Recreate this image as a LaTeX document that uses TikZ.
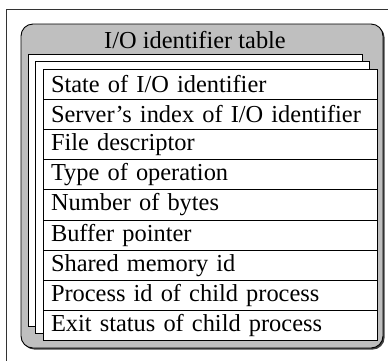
\documentclass[tikz,border=0pt]{standalone}
\usepackage{fontspec}
\setmainfont{Liberation Serif}
\usetikzlibrary{positioning,shadows}
\tikzset{tablebox/.style={draw,rectangle,rounded corners=12pt,fill=black!25,line width=0.9pt,
        drop shadow={shadow xshift=1.6pt,shadow yshift=-1.6pt,opacity=1,fill=black!75}},
    pagebox/.style={draw,rectangle,fill=white,line width=0.9pt,minimum width=334pt,minimum height=272pt,inner sep=0},
    rowcell/.style={draw,rectangle,fill=white,line width=0.9pt,outer sep=0,minimum width=334pt,minimum height=30.2pt,
        node distance=0,inner xsep=8pt,text width=318pt,align=left,font=\fontsize{24.4}{28}\selectfont},
    titlefont/.style={font=\fontsize{24.4}{28}\selectfont}
}
\begin{document}
\begin{tikzpicture}[x=1pt,y=-1pt]

\useasboundingbox (0,0) rectangle (388,360);
\clip (0,0) rectangle (388,360);
\draw [line width=0.9pt,black!80] (6,9) rectangle (396,370);

\node (tbl) [tablebox,minimum width=362pt,minimum height=324pt] at (202,186) {};
\node (title) [titlefont] at (195,40) {I/O identifier table};

\node (page 1) [pagebox] at (195,190) {};
\node (page 2) [pagebox] at (202,197.5) {};

\node (r 1) [rowcell] at (210,84.1) {State of I/O identifier};
\node (r 2) [rowcell,below=of r 1] {Server's index of I/O identifier};
\node (r 3) [rowcell,below=of r 2] {File descriptor};
\node (r 4) [rowcell,below=of r 3] {Type of operation};
\node (r 5) [rowcell,below=of r 4] {Number of bytes};
\node (r 6) [rowcell,below=of r 5] {Buffer pointer};
\node (r 7) [rowcell,below=of r 6] {Shared memory id};
\node (r 8) [rowcell,below=of r 7] {Process id of child process};
\node (r 9) [rowcell,below=of r 8] {Exit status of child process};

\end{tikzpicture}
\end{document}
